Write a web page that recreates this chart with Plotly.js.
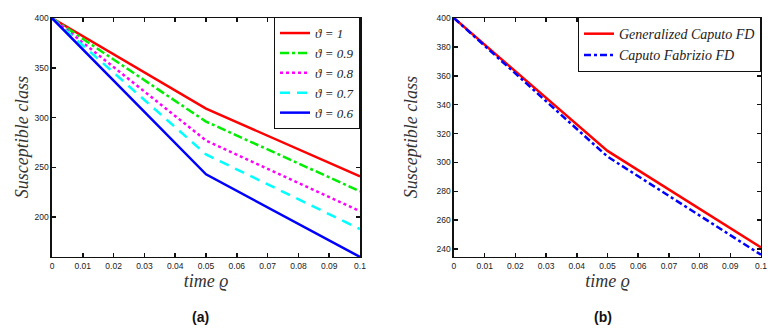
<!DOCTYPE html>
<html>
<head>
<meta charset="utf-8">
<script src="https://cdn.plot.ly/plotly-3.0.1.min.js"></script>
<style>
  html, body { margin: 0; padding: 0; background: #fff; }
  #chart { width: 783px; height: 335px; }
</style>
</head>
<body>
<div id="chart"></div>
<script>
// time grid (both panels)
const timeVals = [0, 0.05, 0.1];

// panel (a): susceptible class for several fractional orders
const orderLabels = ["ϑ = 1", "ϑ = 0.9", "ϑ = 0.8", "ϑ = 0.7", "ϑ = 0.6"];
const sOrder1 = [400, 309, 241];
const sOrder09 = [400, 296, 226];
const sOrder08 = [400, 277, 206];
const sOrder07 = [400, 263, 188];
const sOrder06 = [400, 243, 160];

// panel (b): comparison of operators
const compLabels = ["Generalized Caputo FD", "Caputo Fabrizio FD"];
const sGenCaputo = [400, 308, 241];
const sCapFab = [400, 304, 236];

// tick labels
const xTickVals = [0, 0.01, 0.02, 0.03, 0.04, 0.05, 0.06, 0.07, 0.08, 0.09, 0.1];
const xTickText = ["0", "0.01", "0.02", "0.03", "0.04", "0.05", "0.06", "0.07", "0.08", "0.09", "0.1"];
const yTicksA = [200, 250, 300, 350, 400];
const yTicksB = [240, 260, 280, 300, 320, 340, 360, 380, 400];

const seriesA = [sOrder1, sOrder09, sOrder08, sOrder07, sOrder06];
const stylesA = [
  { color: "#ff0000", dash: "solid" },
  { color: "#00ee00", dash: "9px,3px,3px,3px" },
  { color: "#ff00ff", dash: "3px,3px" },
  { color: "#00ffff", dash: "10px,7px" },
  { color: "#0000ff", dash: "solid" }
];

const tracesA = seriesA.map((ys, i) => ({
  type: "scatter",
  mode: "lines",
  x: timeVals,
  y: ys,
  name: `<i>${orderLabels[i]}</i>`,
  xaxis: "x",
  yaxis: "y",
  legend: "legend",
  line: { color: stylesA[i].color, dash: stylesA[i].dash, width: 2.5 }
}));

const tracesB = [
  {
    type: "scatter", mode: "lines", x: timeVals, y: sGenCaputo,
    name: `<i>${compLabels[0]}</i>`, xaxis: "x2", yaxis: "y2", legend: "legend2",
    line: { color: "#ff0000", width: 2.5 }
  },
  {
    type: "scatter", mode: "lines", x: timeVals, y: sCapFab,
    name: `<i>${compLabels[1]}</i>`, xaxis: "x2", yaxis: "y2", legend: "legend2",
    line: { color: "#0000ff", width: 2.5, dash: "7px,3px,3px,3px" }
  }
];

const tickFont = { family: "Liberation Sans, Arial, sans-serif", size: 8.5, color: "#222" };
const titleFont = { family: "Liberation Serif, serif", size: 18, color: "#333" };

const axisBase = {
  showline: true,
  linecolor: "#111",
  linewidth: 1.5,
  mirror: "ticks",
  ticks: "inside",
  ticklen: 4,
  tickwidth: 1.5,
  tickcolor: "#111",
  showgrid: false,
  zeroline: false,
  tickfont: tickFont
};

const yDomain = [0.233, 0.946];

const layout = {
  width: 783,
  height: 335,
  margin: { l: 0, r: 0, t: 0, b: 0 },
  paper_bgcolor: "#ffffff",
  plot_bgcolor: "#ffffff",
  showlegend: true,
  xaxis: {
    ...axisBase, domain: [0.0664, 0.4598], range: [0, 0.1],
    tickvals: xTickVals, ticktext: xTickText, anchor: "y",
    title: { text: "<i>time ϱ</i>", font: titleFont, standoff: 4 }
  },
  yaxis: {
    ...axisBase, domain: yDomain, range: [160, 400],
    tickvals: yTicksA, anchor: "x"
  },
  xaxis2: {
    ...axisBase, domain: [0.5798, 0.9719], range: [0, 0.1],
    tickvals: xTickVals, ticktext: xTickText, anchor: "y2",
    title: { text: "<i>time ϱ</i>", font: titleFont, standoff: 4 }
  },
  yaxis2: {
    ...axisBase, domain: yDomain, range: [234.5, 400],
    tickvals: yTicksB, anchor: "x2"
  },
  legend: {
    x: 0.4598, y: 0.949, xanchor: "right", yanchor: "top",
    bgcolor: "#ffffff", bordercolor: "#111", borderwidth: 1,
    font: { family: "Liberation Serif, serif", size: 13, color: "#222" },
    tracegroupgap: 0, itemwidth: 30
  },
  legend2: {
    x: 0.9719, y: 0.949, xanchor: "right", yanchor: "top",
    bgcolor: "#ffffff", bordercolor: "#111", borderwidth: 1,
    font: { family: "Liberation Serif, serif", size: 14, color: "#222" },
    tracegroupgap: 0, itemwidth: 30
  },
  annotations: [
    { text: "<i>Susceptible class</i>", x: 22 / 783, y: 0.59, xref: "paper", yref: "paper",
      textangle: -90, showarrow: false, xanchor: "center", yanchor: "middle", font: titleFont },
    { text: "<i>Susceptible class</i>", x: 411 / 783, y: 0.59, xref: "paper", yref: "paper",
      textangle: -90, showarrow: false, xanchor: "center", yanchor: "middle", font: titleFont },
    { text: "<b>(a)</b>", x: 200 / 783, y: 18 / 335, xref: "paper", yref: "paper",
      xanchor: "center", yanchor: "middle", showarrow: false,
      font: { family: "Liberation Sans, Arial, sans-serif", size: 14, color: "#111" } },
    { text: "<b>(b)</b>", x: 603 / 783, y: 18 / 335, xref: "paper", yref: "paper",
      xanchor: "center", yanchor: "middle", showarrow: false,
      font: { family: "Liberation Sans, Arial, sans-serif", size: 14, color: "#111" } }
  ]
};

Plotly.newPlot("chart", [...tracesA, ...tracesB], layout, { displayModeBar: false, staticPlot: true });
</script>
</body>
</html>
